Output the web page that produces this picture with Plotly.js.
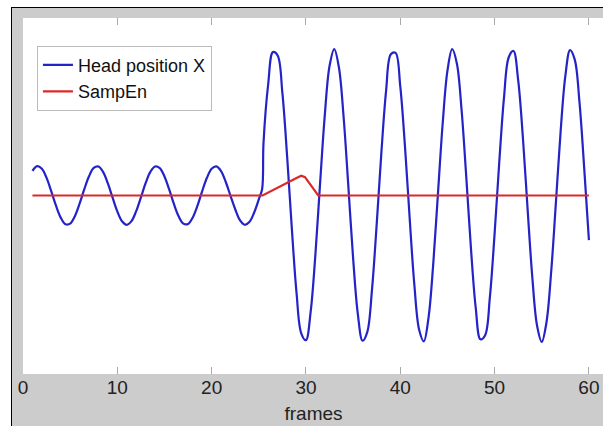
<!DOCTYPE html>
<html>
<head>
<meta charset="utf-8">
<script src="https://cdn.plot.ly/plotly-3.0.1.min.js"></script>
<style>
  html, body { margin: 0; padding: 0; background: #ffffff; width: 603px; height: 426px; overflow: hidden; }
  #frame { position: absolute; left: 11px; top: 7px; width: 592px; height: 419px;
           border-top: 1px solid #000; border-left: 1px solid #000; background: #cccccc; }
  #chart { position: absolute; left: 0; top: 0; width: 592px; height: 419px; }
</style>
</head>
<body>
<div id="frame"><div id="chart"></div></div>
<script>
// Head position X (frames vs. value)
const headFrames = [
  1, 1.5, 2, 2.5, 3, 3.5, 4, 4.5, 5, 5.5, 6, 6.5, 7, 7.5, 8, 8.5, 9, 9.5, 10, 10.5,
  11, 11.5, 12, 12.5, 13, 13.5, 14, 14.5, 15, 15.5, 16, 16.5, 17, 17.5, 18, 18.5, 19, 19.5, 20, 20.5,
  21, 21.5, 22, 22.5, 23, 23.5, 24, 24.5, 25, 25.35,
  25.5, 26, 26.5, 27, 27.5, 28, 28.5, 29, 29.5, 30, 30.5, 31, 31.5, 32, 32.5, 33, 33.5, 34, 34.5, 35,
  35.5, 36, 36.5, 37, 37.5, 38, 38.5, 39, 39.5, 40, 40.5, 41, 41.5, 42, 42.5, 43, 43.5, 44, 44.5, 45,
  45.5, 46, 46.5, 47, 47.5, 48, 48.5, 49, 49.5, 50, 50.5, 51, 51.5, 52, 52.5, 53, 53.5, 54, 54.5, 55,
  55.5, 56, 56.5, 57, 57.5, 58, 58.5, 59, 59.5, 60
];
const headValues = [
  1.68, 2.00, 1.82, 1.20, 0.28, -0.70, -1.51, -1.96, -1.92, -1.41, -0.56, 0.43, 1.31, 1.88, 1.98, 1.60, 0.82, -0.15, -1.09, -1.76,
  -2.00, -1.75, -1.07, -0.13, 0.84, 1.61, 1.98, 1.87, 1.30, 0.41, -0.58, -1.42, -1.92, -1.95, -1.50, -0.69, 0.30, 1.21, 1.83, 1.99,
  1.67, 0.92, -0.02, -0.94, -1.69, -2.00, -1.81, -1.18, -0.26, 0.43,
  3.59, 7.63, 9.79, 9.56, 7.00, 2.71, -2.23, -6.64, -9.41, -9.88, -7.93, -4.04, 0.84, 5.51, 8.84, 10.00, 8.72, 5.29, 0.57, -4.28,
  -8.10, -9.92, -9.33, -6.44, -1.97, 2.96, 7.18, 9.64, 9.74, 7.45, 3.34, -1.59, -6.15, -9.17, -9.96, -8.32, -4.64, 0.18, 4.95, 8.51,
  9.99, 9.02, 5.84, 1.24, -3.67, -7.68, -9.82, -9.54, -6.94, -2.62, 2.32, 6.70, 9.44, 9.87, 7.87, 3.96, -0.93, -5.59, -8.88, -10.00,
  -8.66, -5.21, -0.49, 4.36, 8.15, 9.93, 9.28, 6.37, 1.89, -3.05
];
// SampEn
const sampFrames = [1, 25.4, 29.0, 29.5, 29.9, 31.3, 60];
const sampValues = [0, 0, 1.2, 1.35, 1.25, 0, 0];
// x-axis ticks
const tickVals = [0, 10, 20, 30, 40, 50, 60];
const tickText = ["0", "10", "20", "30", "40", "50", "60"];

const traces = [
  { x: headFrames, y: headValues, type: 'scatter', mode: 'lines', name: 'Head position X',
    line: { color: '#2323c8', width: 2.2, shape: 'spline', smoothing: 1 } },
  { x: sampFrames, y: sampValues, type: 'scatter', mode: 'lines', name: 'SampEn',
    line: { color: '#dc2828', width: 2.2, shape: 'linear' } }
];

const layout = {
  width: 592, height: 419,
  paper_bgcolor: '#cccccc', plot_bgcolor: '#ffffff',
  margin: { l: 11, r: 0, t: 10, b: 53, pad: 0 },
  font: { family: 'Liberation Sans, Arial, sans-serif', size: 19, color: '#222222' },
  showlegend: true,
  legend: {
    x: 0.024, y: 0.922, xanchor: 'left', yanchor: 'top',
    bgcolor: '#ffffff', bordercolor: '#bbbbbb', borderwidth: 1,
    font: { family: 'Liberation Sans, Arial, sans-serif', size: 18, color: '#111111' },
    itemwidth: 30, tracegroupgap: 0
  },
  xaxis: {
    range: [0, 61.6], tickvals: tickVals, ticktext: tickText,
    ticks: 'inside', ticklen: 7, tickwidth: 1, tickcolor: '#aaaaaa', mirror: 'ticks',
    showgrid: false, zeroline: false, showline: false,
    tickfont: { size: 19, color: '#222222' },
    title: { text: 'frames', font: { size: 19, color: '#222222' }, standoff: 9 }
  },
  yaxis: {
    range: [-12.19, 12.12], showticklabels: false, ticks: '',
    showgrid: false, zeroline: false, showline: false
  }
};

Plotly.newPlot('chart', traces, layout, { displayModeBar: false, staticPlot: true });
</script>
</body>
</html>
